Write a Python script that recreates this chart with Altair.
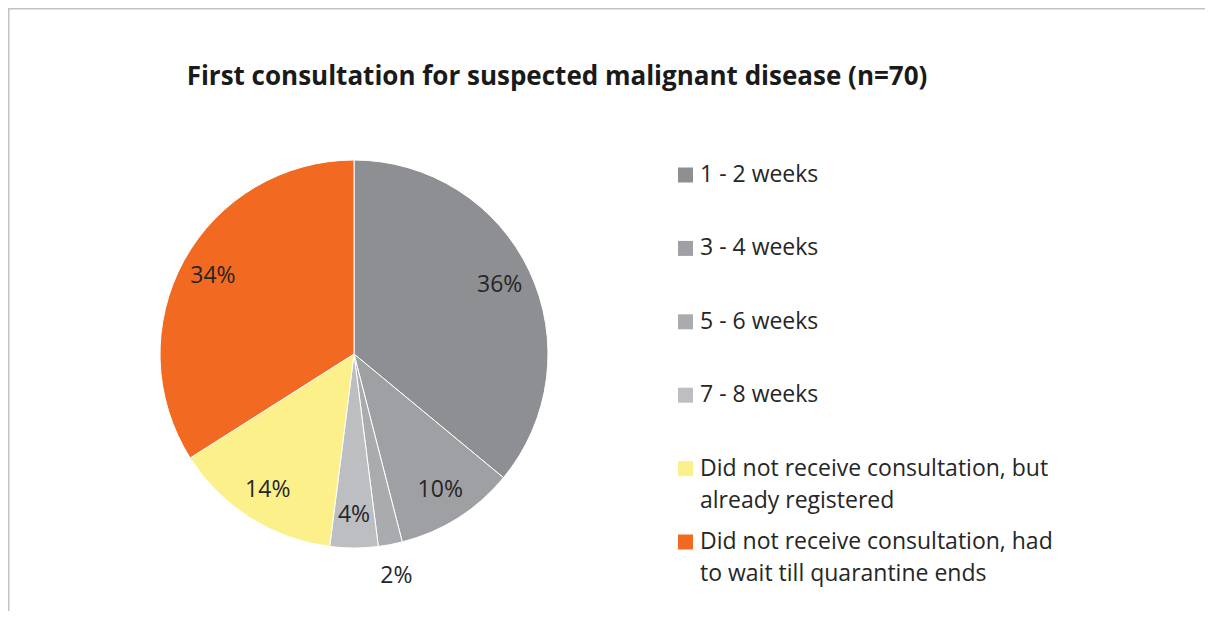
import altair as alt
import pandas as pd

# ---- data ----
categories = [
    "1 - 2 weeks",
    "3 - 4 weeks",
    "5 - 6 weeks",
    "7 - 8 weeks",
    "Did not receive consultation, but already registered",
    "Did not receive consultation, had to wait till quarantine ends",
]
legend_labels = [
    "1 - 2 weeks",
    "3 - 4 weeks",
    "5 - 6 weeks",
    "7 - 8 weeks",
    "Did not receive consultation, but\nalready registered",
    "Did not receive consultation, had\nto wait till quarantine ends",
]
percent = [36, 10, 2, 4, 14, 34]
slice_order = [0, 1, 2, 3, 4, 5]
colors = ["#8e8f92", "#9fa0a3", "#aaabae", "#bdbec2", "#fcf08a", "#f26a21"]
title_text = ["First consultation for suspected malignant disease (n=70)"]

FONT = "Open Sans"
TXT = "#262626"
W, H = 1197, 603
CX, CY, R = 346, 346, 194

df = pd.DataFrame({
    "category": categories,
    "legend": legend_labels,
    "percent": percent,
    "order": slice_order,
})

color = alt.Color("category:N", scale=alt.Scale(domain=categories, range=colors), legend=None)
theta = alt.Theta("percent:Q", stack=True)
order = alt.Order("order:Q")

base = alt.Chart(df)

pie = base.mark_arc(radius=R, stroke="white", strokeWidth=1).encode(
    theta=theta, order=order, color=color,
    x=alt.value(CX), y=alt.value(CY),
)

inner_labels = base.transform_calculate(
    lab="datum.percent >= 3 ? datum.percent + '%' : ''"
).mark_text(radius=161, font=FONT, fontSize=23, color=TXT).encode(
    theta=theta, order=order, detail="category:N", text="lab:N",
    x=alt.value(CX), y=alt.value(CY),
)

outer_labels = base.transform_calculate(
    lab="datum.percent < 3 ? datum.percent + '%' : ''"
).mark_text(radius=226, font=FONT, fontSize=23, color=TXT).encode(
    theta=theta, order=order, detail="category:N", text="lab:N",
    x=alt.value(CX), y=alt.value(CY),
)

ypos = alt.Y("category:N", scale=alt.Scale(domain=categories, range=[167, 534], padding=0), axis=None)

legend_sym = base.mark_square(size=225, opacity=1, filled=True).encode(
    x=alt.value(677.5), y=ypos, color=color,
)
legend_txt = base.mark_text(
    align="left", baseline="middle", lineBreak="\n", lineHeight=32,
    font=FONT, fontSize=23, color=TXT,
).encode(x=alt.value(692), y=ypos, text="legend:N")

title = alt.Chart(pd.DataFrame({"t": title_text})).mark_text(
    align="center", baseline="alphabetic", font=FONT, fontSize=26,
    fontWeight="bold", color="#1a1a1a",
).encode(text="t:N", x=alt.value(549), y=alt.value(77))

frame_df = pd.DataFrame({"k": [0]})
top_rule = alt.Chart(frame_df).mark_rule(color="#c3c3c3", strokeWidth=1.5).encode(
    x=alt.value(0), x2=alt.value(W), y=alt.value(0.75)
)
left_rule = alt.Chart(frame_df).mark_rule(color="#c3c3c3", strokeWidth=1.5).encode(
    x=alt.value(0.75), y=alt.value(0), y2=alt.value(H)
)

chart = alt.layer(
    top_rule, left_rule, pie, inner_labels, outer_labels, legend_sym, legend_txt, title
).properties(
    width=W, height=H, padding=0,
    autosize=alt.AutoSizeParams(type="none"),
).configure_view(stroke=None)

chart.save("out.html", embed_options={"renderer": "svg", "actions": False})
